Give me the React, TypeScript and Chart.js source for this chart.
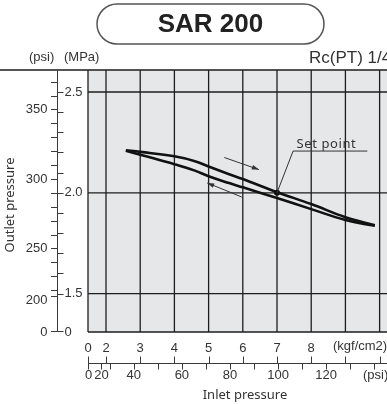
import React, { useEffect, useRef } from 'react';
import { Chart, registerables } from 'chart.js';

Chart.register(...registerables);

// ---- data (inlet kgf/cm2 -> outlet MPa) ----
const upperKgf = [2.58, 3.0, 4.0, 4.6, 5.0, 5.6, 6.0, 7.0, 8.0, 9.0, 9.86];
const upperMPa = [2.211, 2.203, 2.181, 2.157, 2.130, 2.092, 2.068, 2.003, 1.944, 1.879, 1.839];
const lowerKgf = [2.58, 3.0, 4.0, 4.6, 5.0, 5.6, 6.0, 7.0, 8.0, 9.0, 9.86];
const lowerMPa = [2.209, 2.189, 2.142, 2.110, 2.082, 2.048, 2.027, 1.974, 1.919, 1.865, 1.836];

const setPointKgf = 7.0;
const setPointMPa = 2.0;

// ---- axes ----
const kgfGrid = [2, 3, 4, 5, 6, 7, 8, 9, 10];
const kgfLabels = ['2', '3', '4', '5', '6', '7', '8'];
const mpaGrid = [1.5, 2.0, 2.5];
const mpaLabels = ['2.5', '2.0', '1.5'];
const mpaMinor = [1.6, 1.7, 1.8, 1.9, 2.1, 2.2, 2.3, 2.4];
const psiOutletTicks = [220, 230, 240, 250, 260, 270, 280, 290, 300, 310, 320, 330, 340, 350, 360, 370];
const psiOutletLabels = ['350', '300', '250'];
const psiInletTicks = [30, 40, 50, 60, 70, 80, 90, 100, 110, 120, 130, 140];
const psiInletLabels = ['40', '60', '80', '100', '120'];

const X_MIN = 1.4737;
const X_MAX = 10.216;
const Y_MIN = 1.3095;
const Y_MAX = 2.609;

const PSI_PER_KGF = 14.2233;
const MPA_PER_PSI = 0.00689476;

const NUM_FONT = '13px "Liberation Sans", Arial, sans-serif';
const TXT_FONT = '13px "Noto Sans", "DejaVu Sans", sans-serif';

function arrow(ctx: CanvasRenderingContext2D, x1: number, y1: number, x2: number, y2: number) {
  ctx.beginPath();
  ctx.moveTo(x1, y1);
  ctx.lineTo(x2, y2);
  ctx.stroke();
  const ang = Math.atan2(y2 - y1, x2 - x1);
  const L = 7, W = 2.3;
  ctx.beginPath();
  ctx.moveTo(x2, y2);
  ctx.lineTo(x2 - L * Math.cos(ang) + W * Math.sin(ang), y2 - L * Math.sin(ang) - W * Math.cos(ang));
  ctx.lineTo(x2 - L * Math.cos(ang) - W * Math.sin(ang), y2 - L * Math.sin(ang) + W * Math.cos(ang));
  ctx.closePath();
  ctx.fill();
}

const customPlugin = {
  id: 'custom',
  beforeDatasetsDraw(chart: any) {
    const { ctx, chartArea: a, scales } = chart;
    const x = scales.x, y = scales.y;
    ctx.save();
    ctx.fillStyle = '#e6e7e8';
    ctx.fillRect(a.left, a.top, a.right - a.left, a.bottom - a.top);
    ctx.strokeStyle = '#1e1e1e';
    ctx.lineWidth = 1.3;
    for (const k of kgfGrid) {
      const px = x.getPixelForValue(k);
      ctx.beginPath(); ctx.moveTo(px, a.top); ctx.lineTo(px, a.bottom); ctx.stroke();
    }
    for (const m of mpaGrid) {
      const py = y.getPixelForValue(m);
      ctx.beginPath(); ctx.moveTo(a.left, py); ctx.lineTo(a.right, py); ctx.stroke();
    }
    // frame
    ctx.beginPath();
    ctx.moveTo(0, a.top); ctx.lineTo(a.right, a.top);
    ctx.moveTo(a.left, a.top); ctx.lineTo(a.left, a.bottom);
    ctx.moveTo(a.left, a.bottom); ctx.lineTo(a.right, a.bottom);
    ctx.stroke();
    ctx.restore();
  },
  afterDatasetsDraw(chart: any) {
    const { ctx, scales } = chart;
    const x = scales.x, y = scales.y;
    ctx.save();
    // set point
    const sx = x.getPixelForValue(setPointKgf), sy = y.getPixelForValue(setPointMPa);
    ctx.fillStyle = '#111';
    ctx.beginPath(); ctx.arc(sx, sy, 3, 0, Math.PI * 2); ctx.fill();
    const lx = x.getPixelForValue(7.47), ly = y.getPixelForValue(2.207);
    const ux = x.getPixelForValue(9.64);
    ctx.strokeStyle = '#333';
    ctx.lineWidth = 1;
    ctx.beginPath(); ctx.moveTo(sx, sy); ctx.lineTo(lx, ly); ctx.lineTo(ux, ly); ctx.stroke();
    ctx.font = TXT_FONT;
    (ctx as any).letterSpacing = '0.6px';
    ctx.fillStyle = '#333';
    ctx.textAlign = 'left';
    ctx.textBaseline = 'alphabetic';
    ctx.fillText('Set point', x.getPixelForValue(7.57), ly - 3);
    (ctx as any).letterSpacing = '0px';
    // arrows
    ctx.strokeStyle = '#333';
    ctx.fillStyle = '#333';
    ctx.lineWidth = 1;
    arrow(ctx, x.getPixelForValue(5.46), y.getPixelForValue(2.175), x.getPixelForValue(6.47), y.getPixelForValue(2.115));
    arrow(ctx, x.getPixelForValue(5.97), y.getPixelForValue(1.979), x.getPixelForValue(4.96), y.getPixelForValue(2.049));
    ctx.restore();
  },
  afterDraw(chart: any) {
    const { ctx, chartArea: a, scales } = chart;
    const x = scales.x, y = scales.y;
    ctx.save();
    ctx.strokeStyle = '#3a3a3a';
    ctx.fillStyle = '#333';
    ctx.lineWidth = 1;

    // ---- left dual axis ----
    const ax = 57.5;
    ctx.beginPath(); ctx.moveTo(ax, a.top); ctx.lineTo(ax, a.bottom); ctx.stroke();
    const rTick = (py: number) => { ctx.beginPath(); ctx.moveTo(ax, py); ctx.lineTo(ax + 6, py); ctx.stroke(); };
    const lTick = (py: number) => { ctx.beginPath(); ctx.moveTo(ax - 6.5, py); ctx.lineTo(ax, py); ctx.stroke(); };
    for (const m of mpaGrid) rTick(Math.round(y.getPixelForValue(m)) + 0.5);
    for (const m of mpaMinor) rTick(Math.round(y.getPixelForValue(m)) + 0.5);
    rTick(a.bottom - 0.5);
    for (const p of psiOutletTicks) lTick(Math.round(y.getPixelForValue(p * MPA_PER_PSI)) + 0.5);
    const psi200y = Math.round(y.getPixelForValue(1.49)) + 0.5;
    lTick(psi200y);
    lTick(a.bottom - 0.5);

    ctx.font = NUM_FONT;
    ctx.textBaseline = 'middle';
    ctx.textAlign = 'left';
    mpaLabels.forEach((t) => ctx.fillText(t, ax + 7, y.getPixelForValue(parseFloat(t))));
    ctx.fillText('0', ax + 7, a.bottom);
    ctx.textAlign = 'right';
    psiOutletLabels.forEach((t) => ctx.fillText(t, ax - 10, y.getPixelForValue(parseFloat(t) * MPA_PER_PSI)));
    ctx.fillText('200', ax - 10, psi200y + 4);
    ctx.fillText('0', ax - 10, a.bottom);

    // unit labels on top
    ctx.textAlign = 'left';
    ctx.textBaseline = 'alphabetic';
    ctx.fillText('(psi)', 29, 61);
    ctx.fillText('(MPa)', 64, 61);
    ctx.font = '17px "Liberation Sans", Arial, sans-serif';
    ctx.fillText('Rc(PT) 1/4', 309, 63);

    // Outlet pressure
    ctx.save();
    ctx.translate(10, 205);
    ctx.rotate(-Math.PI / 2);
    ctx.font = TXT_FONT;
    ctx.textAlign = 'center';
    ctx.textBaseline = 'middle';
    ctx.fillText('Outlet pressure', 0, 0);
    ctx.restore();

    // ---- bottom dual axis ----
    const by = 363.5;
    ctx.beginPath(); ctx.moveTo(a.left, by); ctx.lineTo(a.right, by); ctx.stroke();
    const uTick = (px: number) => { ctx.beginPath(); ctx.moveTo(px, by - 7); ctx.lineTo(px, by); ctx.stroke(); };
    const dTick = (px: number) => { ctx.beginPath(); ctx.moveTo(px, by); ctx.lineTo(px, by + 6); ctx.stroke(); };
    const left = a.left + 0.5;
    uTick(left); dTick(left);
    for (const k of kgfGrid) uTick(Math.round(x.getPixelForValue(k)) + 0.5);
    const psi20x = Math.round(x.getPixelForValue(1.85)) + 0.5;
    dTick(psi20x);
    for (const p of psiInletTicks) dTick(Math.round(x.getPixelForValue(p / PSI_PER_KGF)) + 0.5);

    ctx.font = NUM_FONT;
    ctx.textAlign = 'center';
    ctx.textBaseline = 'middle';
    ctx.fillText('0', a.left, 348);
    kgfLabels.forEach((t) => ctx.fillText(t, x.getPixelForValue(parseFloat(t)), 348));
    ctx.textAlign = 'left';
    ctx.fillText('(kgf/cm2)', 333, 346);
    ctx.textAlign = 'center';
    ctx.fillText('0', a.left + 0.5, 375);
    ctx.fillText('20', psi20x, 375);
    psiInletLabels.forEach((t) => ctx.fillText(t, x.getPixelForValue(parseFloat(t) / PSI_PER_KGF), 375));
    ctx.textAlign = 'left';
    ctx.fillText('(psi)', 363, 375);

    ctx.font = TXT_FONT;
    ctx.textAlign = 'center';
    ctx.fillText('Inlet pressure', 245, 395);

    // ---- title box ----
    ctx.strokeStyle = '#555';
    ctx.lineWidth = 1.5;
    ctx.beginPath();
    (ctx as any).roundRect(97, 4, 227, 40, 20);
    ctx.stroke();
    ctx.fillStyle = '#222';
    ctx.font = 'bold 26px "Liberation Sans", Arial, sans-serif';
    ctx.textAlign = 'center';
    ctx.textBaseline = 'middle';
    ctx.fillText('SAR 200', 210.5, 25);
    ctx.restore();
  },
};

export default function App() {
  const ref = useRef<HTMLCanvasElement | null>(null);
  useEffect(() => {
    if (!ref.current) return;
    const chart = new Chart(ref.current, {
      type: 'line',
      data: {
        datasets: [
          {
            data: upperKgf.map((v, i) => ({ x: v, y: upperMPa[i] })),
            borderColor: '#111',
            borderWidth: 2.6,
            pointRadius: 0,
            tension: 0.4,
            fill: false,
          },
          {
            data: lowerKgf.map((v, i) => ({ x: v, y: lowerMPa[i] })),
            borderColor: '#111',
            borderWidth: 2.6,
            pointRadius: 0,
            tension: 0.4,
            fill: false,
          },
        ],
      },
      options: {
        responsive: false,
        animation: false,
        layout: { padding: { left: 88, top: 70, right: 0, bottom: 72 } },
        scales: {
          x: { type: 'linear', min: X_MIN, max: X_MAX, display: false },
          y: { type: 'linear', min: Y_MIN, max: Y_MAX, display: false },
        },
        plugins: { legend: { display: false }, tooltip: { enabled: false } },
      },
      plugins: [customPlugin],
    } as any);
    return () => chart.destroy();
  }, []);
  return (
    <div style={{ position: 'absolute', left: 0, top: 0, width: 387, height: 404, background: '#fff' }}>
      <canvas ref={ref} width={387} height={404} />
    </div>
  );
}
